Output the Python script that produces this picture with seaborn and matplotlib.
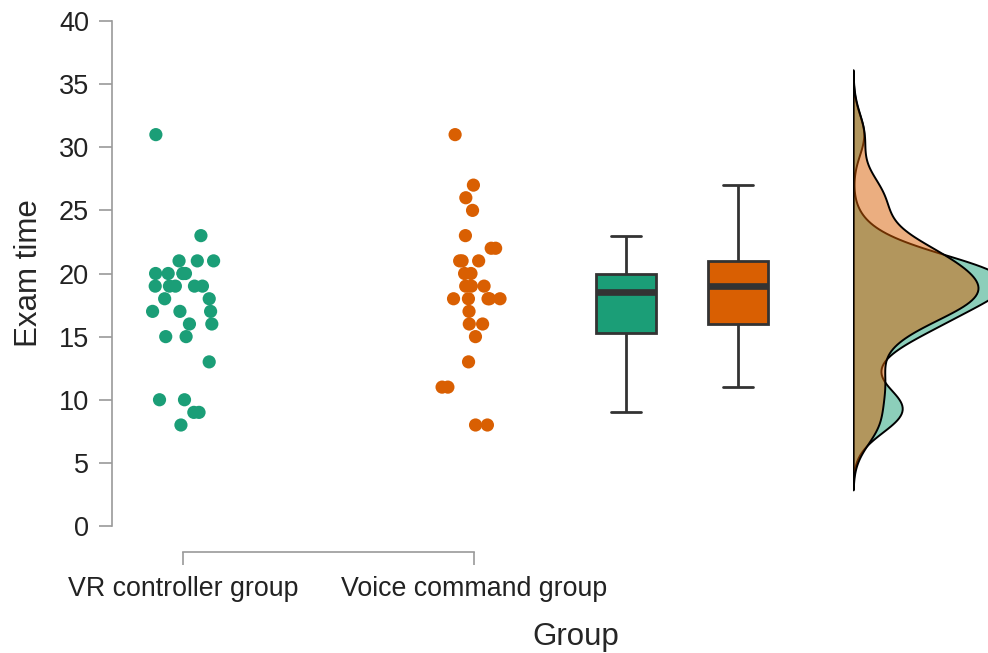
import numpy as np
import pandas as pd
import seaborn as sns
import matplotlib.pyplot as plt

# exam times, one value per dot
groups = ["VR controller group", "Voice command group"]
vr_times = [31, 23, 21, 21, 21, 20, 20, 20, 20, 20, 19, 19, 19, 19, 19,
            18, 18, 17, 17, 17, 16, 16, 15, 15, 13, 10, 10, 9, 9, 8]
voice_times = [31, 27, 26, 25, 23, 22, 22, 21, 21, 21, 20, 20, 19, 19, 19,
               18, 18, 18, 18, 18, 17, 16, 16, 15, 13, 11, 11, 8, 8]
palette = ["#1b9e77", "#d95f02"]

df = pd.DataFrame({
    "Group": [groups[0]] * len(vr_times) + [groups[1]] * len(voice_times),
    "Exam time": vr_times + voice_times,
})

sns.set_style("ticks")
plt.rcParams["font.family"] = ["Liberation Sans", "DejaVu Sans"]

W, H = 988, 653
fig = plt.figure(figsize=(W / 100, H / 100), dpi=100)


def px_rect(x0, y0, x1, y1):
    # pixel box (top-left origin) -> figure fraction rect
    return [x0 / W, 1 - y1 / H, (x1 - x0) / W, (y1 - y0) / H]


ax = fig.add_axes(px_rect(112, 21, 850, 526))
box_ax = fig.add_axes(px_rect(112, 21, 850, 526))
dens_ax = fig.add_axes(px_rect(853, 21, 1000, 526))

# jittered points
np.random.seed(7)
sns.stripplot(data=df, x="Group", y="Exam time", hue="Group", order=groups,
              hue_order=groups, palette=palette, jitter=0.11, size=9.5,
              linewidth=0, legend=False, ax=ax)
ax.set_xlim((112 - 183) / 291, (850 - 183) / 291)
ax.set_ylim(0, 40)
ax.set_yticks(range(0, 41, 5))

spine_col = "#9a9a9a"
ax.spines[["top", "right"]].set_visible(False)
for s in ["left", "bottom"]:
    ax.spines[s].set_color(spine_col)
    ax.spines[s].set_linewidth(1.2)
ax.spines["left"].set_bounds(0, 40)
ax.spines["bottom"].set_bounds(0, 1)
ax.spines["bottom"].set_position(("outward", 19))
ax.tick_params(axis="y", left=True, length=9.4, width=1.2, color=spine_col,
               labelsize=19.5, labelcolor="#222222", pad=7)
ax.tick_params(axis="x", bottom=True, length=9.4, width=1.2, color=spine_col,
               labelsize=19.3, labelcolor="#222222", pad=7.5)
ax.set_ylabel("Exam time", fontsize=22.5)
ax.yaxis.set_label_coords((44 - 112) / 738, 0.5)
ax.set_xlabel("Group", fontsize=22.5)
ax.xaxis.set_label_coords((576 - 112) / 738, (526 - 622) / 505)

# boxplots on an overlaid axes
sns.boxplot(data=df, x="Group", y="Exam time", hue="Group", order=groups,
            hue_order=groups, palette=palette, saturation=1, width=0.54,
            showfliers=False, linecolor="#333333", linewidth=2.0,
            medianprops={"linewidth": 4.8}, legend=False, ax=box_ax)
box_ax.set_xlim((112 - 626) / 112, (850 - 626) / 112)
box_ax.set_ylim(0, 40)
box_ax.axis("off")
box_ax.patch.set_alpha(0)

# half densities on the right (R-style nrd0 bandwidth)
for vals, col in zip([vr_times, voice_times], palette):
    arr = np.asarray(vals, float)
    sd = arr.std(ddof=1)
    q75, q25 = np.percentile(arr, [75, 25])
    factor = 0.9 * min(sd, (q75 - q25) / 1.34) / sd * len(arr) ** -0.2
    sns.kdeplot(y=arr, bw_method=factor, cut=3, fill=True, color=col,
                alpha=0.5, edgecolor="black", linewidth=1.4, ax=dens_ax)
omax = dens_ax.collections[1].get_paths()[0].vertices[:, 0].max()
dens_ax.set_xlim(0, omax * (1000 - 853) / (978 - 853))
dens_ax.set_ylim(0, 40)
dens_ax.axis("off")

fig.savefig("out.png", dpi=100)
